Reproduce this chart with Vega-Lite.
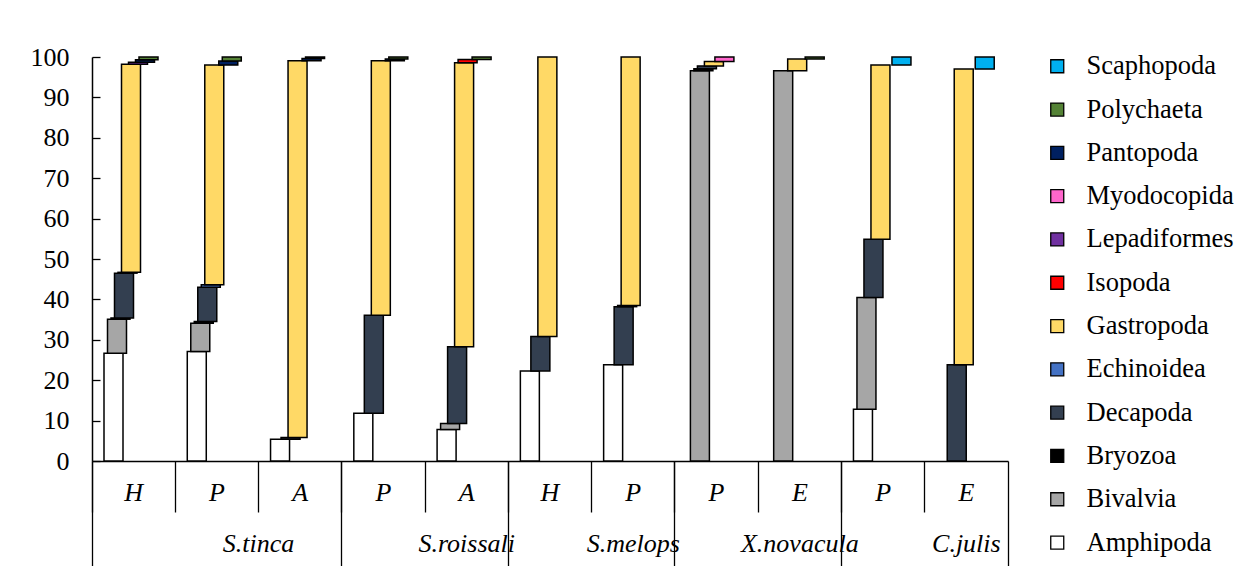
{
  "$schema": "https://vega.github.io/schema/vega-lite/v6.json",
  "autosize": "none",
  "width": 916,
  "height": 404,
  "padding": {"left": 92, "top": 57, "right": 242, "bottom": 105},
  "background": "white",
  "config": {
    "view": {"stroke": null},
    "font": "Liberation Serif",
    "axis": {"grid": false, "domainColor": "black", "tickColor": "black", "labelColor": "black", "labelFont": "Liberation Serif"}
  },
  "data": {
    "values": [
      {"cat": "S.tinca|H", "taxon": "Amphipoda", "pct": 26.7},
      {"cat": "S.tinca|H", "taxon": "Bivalvia", "pct": 8.4},
      {"cat": "S.tinca|H", "taxon": "Bryozoa", "pct": 0.3},
      {"cat": "S.tinca|H", "taxon": "Decapoda", "pct": 11.1},
      {"cat": "S.tinca|H", "taxon": "Echinoidea", "pct": 0.2},
      {"cat": "S.tinca|H", "taxon": "Gastropoda", "pct": 51.5},
      {"cat": "S.tinca|H", "taxon": "Lepadiformes", "pct": 0.5},
      {"cat": "S.tinca|H", "taxon": "Pantopoda", "pct": 0.6},
      {"cat": "S.tinca|H", "taxon": "Polychaeta", "pct": 0.7},
      {"cat": "S.tinca|P", "taxon": "Amphipoda", "pct": 27.1},
      {"cat": "S.tinca|P", "taxon": "Bivalvia", "pct": 7.0},
      {"cat": "S.tinca|P", "taxon": "Bryozoa", "pct": 0.4},
      {"cat": "S.tinca|P", "taxon": "Decapoda", "pct": 8.5},
      {"cat": "S.tinca|P", "taxon": "Echinoidea", "pct": 0.6},
      {"cat": "S.tinca|P", "taxon": "Gastropoda", "pct": 54.4},
      {"cat": "S.tinca|P", "taxon": "Pantopoda", "pct": 1.0},
      {"cat": "S.tinca|P", "taxon": "Polychaeta", "pct": 1.0},
      {"cat": "S.tinca|A", "taxon": "Amphipoda", "pct": 5.4},
      {"cat": "S.tinca|A", "taxon": "Decapoda", "pct": 0.4},
      {"cat": "S.tinca|A", "taxon": "Gastropoda", "pct": 93.3},
      {"cat": "S.tinca|A", "taxon": "Pantopoda", "pct": 0.5},
      {"cat": "S.tinca|A", "taxon": "Polychaeta", "pct": 0.4},
      {"cat": "S.roissali|P", "taxon": "Amphipoda", "pct": 11.8},
      {"cat": "S.roissali|P", "taxon": "Decapoda", "pct": 24.3},
      {"cat": "S.roissali|P", "taxon": "Gastropoda", "pct": 63.0},
      {"cat": "S.roissali|P", "taxon": "Pantopoda", "pct": 0.4},
      {"cat": "S.roissali|P", "taxon": "Polychaeta", "pct": 0.5},
      {"cat": "S.roissali|A", "taxon": "Amphipoda", "pct": 7.8},
      {"cat": "S.roissali|A", "taxon": "Bivalvia", "pct": 1.5},
      {"cat": "S.roissali|A", "taxon": "Decapoda", "pct": 19.0},
      {"cat": "S.roissali|A", "taxon": "Gastropoda", "pct": 70.3},
      {"cat": "S.roissali|A", "taxon": "Isopoda", "pct": 0.8},
      {"cat": "S.roissali|A", "taxon": "Polychaeta", "pct": 0.6},
      {"cat": "S.melops|H", "taxon": "Amphipoda", "pct": 22.3},
      {"cat": "S.melops|H", "taxon": "Decapoda", "pct": 8.5},
      {"cat": "S.melops|H", "taxon": "Gastropoda", "pct": 69.2},
      {"cat": "S.melops|P", "taxon": "Amphipoda", "pct": 23.8},
      {"cat": "S.melops|P", "taxon": "Decapoda", "pct": 14.4},
      {"cat": "S.melops|P", "taxon": "Echinoidea", "pct": 0.3},
      {"cat": "S.melops|P", "taxon": "Gastropoda", "pct": 61.5},
      {"cat": "X.novacula|P", "taxon": "Bivalvia", "pct": 96.6},
      {"cat": "X.novacula|P", "taxon": "Bryozoa", "pct": 0.5},
      {"cat": "X.novacula|P", "taxon": "Decapoda", "pct": 0.7},
      {"cat": "X.novacula|P", "taxon": "Gastropoda", "pct": 1.1},
      {"cat": "X.novacula|P", "taxon": "Myodocopida", "pct": 1.1},
      {"cat": "X.novacula|E", "taxon": "Bivalvia", "pct": 96.6},
      {"cat": "X.novacula|E", "taxon": "Gastropoda", "pct": 2.9},
      {"cat": "X.novacula|E", "taxon": "Polychaeta", "pct": 0.5},
      {"cat": "C.julis|P", "taxon": "Amphipoda", "pct": 12.8},
      {"cat": "C.julis|P", "taxon": "Bivalvia", "pct": 27.7},
      {"cat": "C.julis|P", "taxon": "Decapoda", "pct": 14.4},
      {"cat": "C.julis|P", "taxon": "Gastropoda", "pct": 43.1},
      {"cat": "C.julis|P", "taxon": "Scaphopoda", "pct": 2.0},
      {"cat": "C.julis|E", "taxon": "Decapoda", "pct": 23.8},
      {"cat": "C.julis|E", "taxon": "Gastropoda", "pct": 73.2},
      {"cat": "C.julis|E", "taxon": "Scaphopoda", "pct": 3.0}
    ]
  },
  "transform": [
    {"stack": "pct", "groupby": ["cat"], "sort": [{"field": "taxon", "order": "ascending"}], "as": ["lo", "hi"]}
  ],
  "layer": [
    {
      "mark": {"type": "bar", "width": 19, "stroke": "black", "strokeWidth": 1.5},
      "encoding": {
        "x": {
          "field": "cat", "type": "nominal",
          "scale": {"domain": ["S.tinca|H", "S.tinca|P", "S.tinca|A", "S.roissali|P", "S.roissali|A", "S.melops|H", "S.melops|P", "X.novacula|P", "X.novacula|E", "C.julis|P", "C.julis|E"], "paddingInner": 0, "paddingOuter": 0},
          "axis": {
            "title": null, "orient": "bottom", "tickSize": 51, "tickOpacity": 0, "domainWidth": 1.5,
            "domainColor": "black",
            "labelExpr": "split(datum.value, '|')[1]", "labelAngle": 0, "labelFontStyle": "italic", "labelFontSize": 26,
            "labelBaseline": "middle", "labelPadding": -20
          }
        },
        "xOffset": {
          "field": "taxon", "type": "nominal",
          "scale": {"domain": ["Amphipoda", "Bivalvia", "Bryozoa", "Decapoda", "Echinoidea", "Gastropoda", "Isopoda", "Lepadiformes", "Myodocopida", "Pantopoda", "Polychaeta", "Scaphopoda"], "range": [19.75, 61.75], "paddingInner": 0, "paddingOuter": 0}
        },
        "y": {
          "field": "lo", "type": "quantitative",
          "scale": {"domain": [0, 100], "nice": false},
          "axis": {"title": null, "values": [0, 10, 20, 30, 40, 50, 60, 70, 80, 90, 100], "tickSize": -8, "tickWidth": 1.3, "domainWidth": 1.5, "domainColor": "black", "tickColor": "black", "labelFontSize": 26, "labelPadding": 31}
        },
        "y2": {"field": "hi"},
        "color": {
          "field": "taxon", "type": "nominal",
          "scale": {
            "domain": ["Scaphopoda", "Polychaeta", "Pantopoda", "Myodocopida", "Lepadiformes", "Isopoda", "Gastropoda", "Echinoidea", "Decapoda", "Bryozoa", "Bivalvia", "Amphipoda"],
            "range": ["#00b0f0", "#548235", "#002060", "#ff66cc", "#7030a0", "#ff0000", "#ffd966", "#4472c4", "#333f50", "#000000", "#a6a6a6", "#ffffff"]
          },
          "legend": {
            "title": null, "orient": "none", "legendX": 952, "legendY": -4, "padding": 0, "symbolType": "square", "symbolSize": 169,
            "symbolStrokeColor": "black", "symbolStrokeWidth": 1.3, "labelFont": "Liberation Serif", "labelFontSize": 26.5,
            "labelColor": "black", "labelOffset": 16, "rowPadding": 16.3, "labelLimit": 300
          }
        }
      }
    },
    {
      "mark": {"type": "point", "opacity": 0},
      "encoding": {
        "x": {
          "field": "cat", "type": "nominal",
          "axis": {
            "title": null, "orient": "bottom", "domain": false, "labels": false, "bandPosition": 0,
            "tickSize": 51, "tickWidth": 1.3, "tickColor": "black"
          }
        }
      }
    },
    {
      "mark": {"type": "point", "opacity": 0},
      "encoding": {
        "x": {
          "field": "cat", "type": "nominal",
          "axis": {
            "title": null, "orient": "bottom", "domain": false, "bandPosition": 0, "tickSize": 105, "tickWidth": 1.3,
            "tickColor": "black",
            "tickOpacity": {"condition": {"test": "indexof(['S.tinca|H', 'S.roissali|P', 'S.melops|H', 'X.novacula|P', 'C.julis|P'], datum.value) >= 0", "value": 1}, "value": 0},
            "labelExpr": "indexof(['S.tinca|P', 'S.roissali|A', 'S.melops|P', 'X.novacula|E', 'C.julis|E'], datum.value) >= 0 ? split(datum.value, '|')[0] : ''",
            "labelOffset": {"condition": {"test": "datum.value === 'S.tinca|P'", "value": 41.6}, "value": 0},
            "labelAngle": 0, "labelFontStyle": "italic", "labelFontSize": 26, "labelBaseline": "middle", "labelPadding": -23
          }
        }
      }
    },
    {
      "mark": {"type": "point", "opacity": 0},
      "encoding": {
        "x": {
          "field": "cat", "type": "nominal",
          "axis": {
            "title": null, "orient": "bottom", "domain": false, "labels": false, "bandPosition": 1, "tickSize": 105, "tickWidth": 1.3,
            "tickColor": "black",
            "tickOpacity": {"condition": {"test": "datum.value === 'C.julis|E'", "value": 1}, "value": 0}
          }
        }
      }
    }
  ],
  "resolve": {"axis": {"x": "independent"}}
}
